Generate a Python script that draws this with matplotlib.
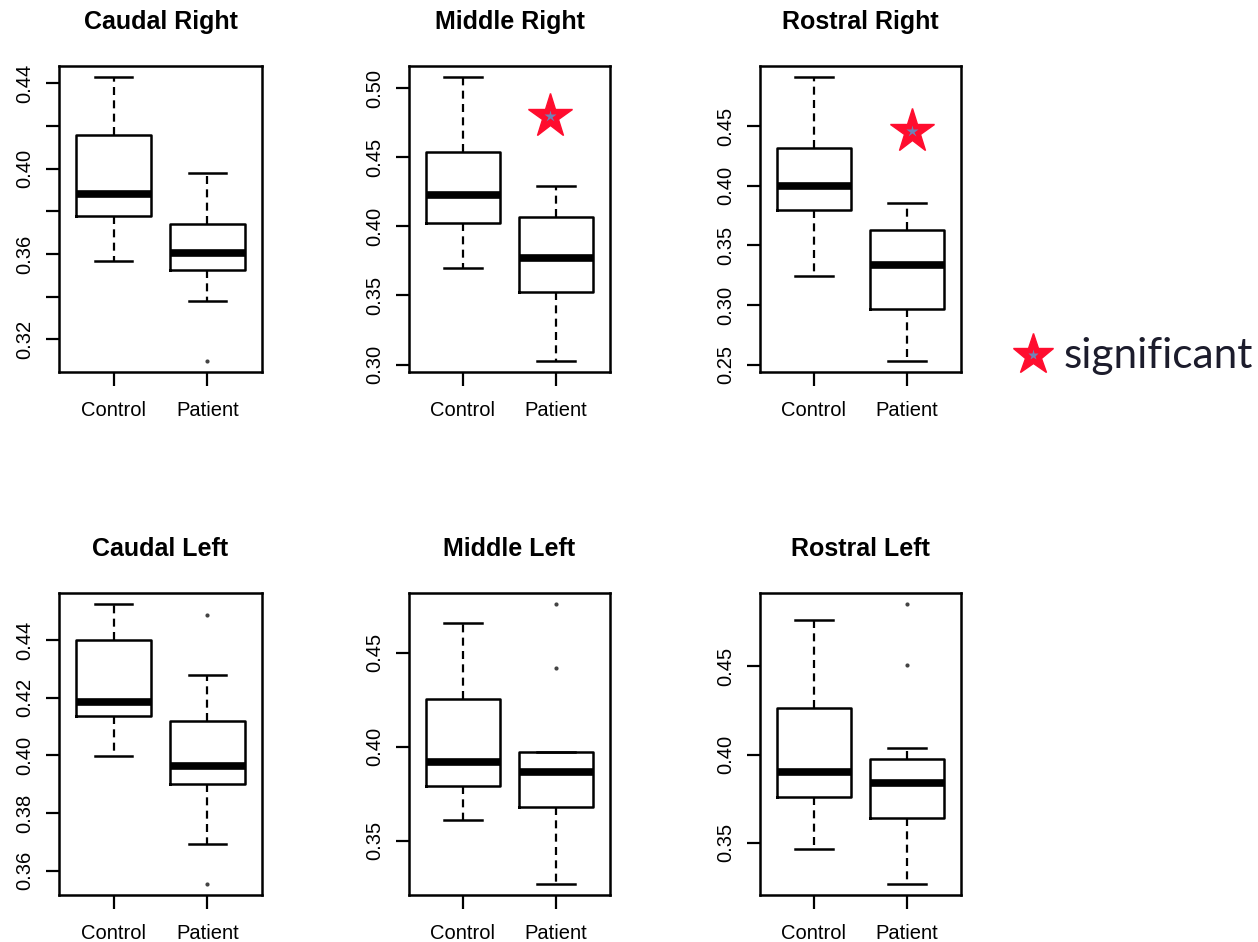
"""Control vs patient boxplots for six regions"""
import matplotlib.pyplot as plt
from matplotlib.lines import Line2D

plt.rcParams['font.family'] = ['Liberation Sans', 'DejaVu Sans']

regions = ["Caudal Right", "Middle Right", "Rostral Right",
           "Caudal Left", "Middle Left", "Rostral Left"]
groups = ["Control", "Patient"]

# summaries, [control, patient] per region
whislo = [[0.3567, 0.3379], [0.370, 0.3028], [0.3242, 0.2534],
          [0.3998, 0.3692], [0.361, 0.327], [0.3464, 0.3268]]
q1 = [[0.3776, 0.3524], [0.4025, 0.3527], [0.3797, 0.2965],
      [0.4136, 0.3899], [0.3793, 0.3677], [0.3762, 0.3639]]
med = [[0.3883, 0.3603], [0.4226, 0.3774], [0.4002, 0.3332],
       [0.4183, 0.3962], [0.3919, 0.3865], [0.3902, 0.3840]]
q3 = [[0.4159, 0.3741], [0.4536, 0.4068], [0.4315, 0.3632],
      [0.4400, 0.4119], [0.4255, 0.3970], [0.4266, 0.3976]]
whishi = [[0.4428, 0.3980], [0.508, 0.4293], [0.4909, 0.3853],
          [0.4524, 0.4279], [0.4661, 0.3970], [0.4764, 0.4040]]
fliers = [[[], [0.310]], [[], []], [[], []],
          [[], [0.4486, 0.3554]], [[], [0.4759, 0.4419]], [[], [0.4853, 0.4510]]]

yticks = [[0.32, 0.34, 0.36, 0.38, 0.40, 0.42, 0.44],
          [0.30, 0.35, 0.40, 0.45, 0.50],
          [0.25, 0.30, 0.35, 0.40, 0.45],
          [0.36, 0.38, 0.40, 0.42, 0.44],
          [0.35, 0.40, 0.45],
          [0.35, 0.40, 0.45]]
ylabels = [["0.32", "", "0.36", "", "0.40", "", "0.44"],
           ["0.30", "0.35", "0.40", "0.45", "0.50"],
           ["0.25", "0.30", "0.35", "0.40", "0.45"],
           ["0.36", "0.38", "0.40", "0.42", "0.44"],
           ["0.35", "0.40", "0.45"],
           ["0.35", "0.40", "0.45"]]

# significance stars (panel index, x, y)
star_panel = [1, 2]
star_x = [1.93, 2.05]
star_y = [0.480, 0.4455]

W, H = 1258, 942
fig = plt.figure(figsize=(W / 100, H / 100), dpi=100)

lefts = [59, 409, 760]
widths = [203, 201, 201]
rows = [(66, 372), (593, 895)]

STAR_RED = '#ff0d2e'
STAR_BLUE = '#6f84b8'

axes = []
for i, name in enumerate(regions):
    r, c = divmod(i, 3)
    top, bot = rows[r]
    ax = fig.add_axes([lefts[c] / W, (H - bot) / H, widths[c] / W, (bot - top) / H])
    axes.append(ax)
    stats = []
    for g in range(2):
        stats.append(dict(med=med[i][g], q1=q1[i][g], q3=q3[i][g],
                          whislo=whislo[i][g], whishi=whishi[i][g],
                          fliers=fliers[i][g], label=groups[g]))
    ax.bxp(stats, positions=[1, 2], widths=0.8, capwidths=0.4,
           boxprops=dict(color='black', linewidth=1.8),
           medianprops=dict(color='black', linewidth=5.5, solid_capstyle='butt'),
           whiskerprops=dict(color='black', linewidth=1.6, linestyle=(0, (3.6, 2.4))),
           capprops=dict(color='black', linewidth=1.8),
           flierprops=dict(marker='o', markersize=3, markerfacecolor='#444444',
                           markeredgecolor='none'))
    vals = [v for g in range(2) for v in
            [whislo[i][g], whishi[i][g]] + fliers[i][g]]
    lo, hi = min(vals), max(vals)
    pad = (hi - lo) * 0.04
    ax.set_ylim(lo - pad, hi + pad)
    ax.set_xlim(0.42, 2.58)
    ax.set_yticks(yticks[i])
    ax.set_yticklabels(ylabels[i], rotation=90, va='center', fontsize=14.5)
    ax.set_xticks([1, 2])
    ax.set_xticklabels(groups, fontsize=14.5)
    ax.tick_params(axis='y', direction='out', length=9.5, width=1.6, pad=8)
    ax.tick_params(axis='x', direction='out', length=10, width=1.6, pad=11)
    for sp in ax.spines.values():
        sp.set_linewidth(1.8)
    ax.set_title(name, fontsize=18, fontweight='bold', pad=27)

for p, sx, sy in zip(star_panel, star_x, star_y):
    axes[p].plot([sx], [sy], marker='*', markersize=33, color=STAR_RED,
                 markeredgecolor=STAR_RED, linestyle='none')
    axes[p].plot([sx], [sy], marker='*', markersize=9, color=STAR_BLUE,
                 markeredgecolor='none', linestyle='none')

# legend for the star, outside the panels
fig.add_artist(Line2D([1033 / W], [(H - 355) / H], transform=fig.transFigure,
                      marker='*', markersize=31, color=STAR_RED,
                      markeredgecolor=STAR_RED, linestyle='none'))
fig.add_artist(Line2D([1033 / W], [(H - 355) / H], transform=fig.transFigure,
                      marker='*', markersize=8, color=STAR_BLUE,
                      markeredgecolor='none', linestyle='none'))
fig.text(1064 / W, (H - 356) / H, "significant", fontsize=30.5, family=['Lato', 'DejaVu Sans'],
         color='#1c1c2c', va='center', ha='left')

fig.savefig('out.png', dpi=100)
